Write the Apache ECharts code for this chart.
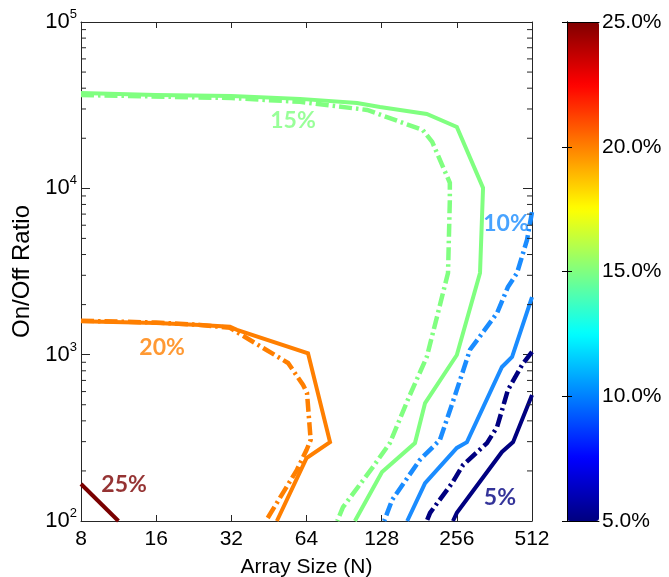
<!DOCTYPE html>
<html>
<head>
<meta charset="utf-8">
<script src="https://cdn.jsdelivr.net/npm/echarts@6/dist/echarts.min.js"></script>
<style>
  html, body { margin: 0; padding: 0; background: #fff; }
  #chart { width: 669px; height: 577px; }
</style>
</head>
<body>
<div id="chart"></div>
<script>
// Contour lines of error rate over array size N and on/off ratio.
// Each line is a list of [N, on/off ratio] vertices.
const solid25 = [[8, 167], [11.3, 100]];

const solid20 = [[8, 1590], [16, 1550], [24, 1510], [31.6, 1470], [33.7, 1410],
  [64.9, 1020], [79.5, 298], [64, 239], [48.7, 100]];
const dash20 = [[8, 1600], [16, 1560], [24, 1510], [31.6, 1450], [38, 1225],
  [54, 891], [62, 657], [64.3, 589], [66.5, 307], [64, 267], [58.6, 203], [44, 100]];

const solid15 = [[8, 37400], [16, 36400], [32, 35900], [60.3, 34500], [102, 32600],
  [126, 30800], [194, 28000], [256, 23400], [326, 10050], [317, 3100], [256, 995],
  [191, 512], [174, 294], [128.4, 197], [100, 100]];
const dash15 = [[8, 36400], [32, 34900], [60.3, 33100], [112, 29600], [187, 22400],
  [204, 19000], [240, 10800], [240, 8500], [236, 3100], [213, 1680], [194, 968],
  [166, 572], [138, 294], [118, 211], [89.6, 121], [85, 100]];

const solid10 = [[512, 2220], [426, 968], [388, 843], [281, 298], [256, 275],
  [191, 169], [162, 100]];
const dash10 = [[512, 7200], [489, 4890], [446, 3100], [410, 2550], [371, 1780],
  [289, 1070], [252, 572], [219, 307], [182, 233], [141, 134], [131, 100]];

const solid5 = [[512, 572], [430, 298], [388, 260], [256, 112], [247, 100]];
const dash5 = [[512, 1040], [467, 867], [410, 613], [371, 367], [338, 294],
  [271, 217], [245, 169], [200, 112], [194, 100]];

// Inline level labels
const levelText = ['25%', '20%', '15%', '10%', '5%'];
const levelX = [11.9, 16.9, 56.5, 403, 381];
const levelY = [165, 1097, 25400, 6100, 139];

// Axis ticks
const xTicks = [8, 16, 32, 64, 128, 256, 512];
const yMinorTicks = [200, 300, 400, 500, 600, 700, 800, 900,
  2000, 3000, 4000, 5000, 6000, 7000, 8000, 9000,
  20000, 30000, 40000, 50000, 60000, 70000, 80000, 90000];
const colorbarTicks = [5, 10, 15, 20, 25];

// Jet colormap stops used for the colour bar and the contour levels
const jet = ['#000080', '#0000ff', '#0080ff', '#00ffff', '#80ff80',
  '#ffff00', '#ff8000', '#ff0000', '#800000'];
const levelColor = {25: '#7a0000', 20: '#ff7f00', 15: '#80ff80', 10: '#1a8cff', 5: '#000080'};

const FONT = 'Liberation Sans';
const AXIS_COLOR = '#262626';
const dashDot = [13, 4, 2.5, 4];

function contour(data, color, dashed) {
  return {
    type: 'line', xAxisIndex: 0, yAxisIndex: 0, data: data,
    showSymbol: false, symbol: 'none', silent: true, animation: false,
    lineStyle: { color: color, width: dashed ? 4.5 : 4, type: dashed ? dashDot : 'solid', cap: 'butt', join: 'miter' },
    z: 3
  };
}

const chart = echarts.init(document.getElementById('chart'), null, { renderer: 'canvas' });

const series = [
  contour(dash15, levelColor[15], true),
  contour(solid15, levelColor[15], false),
  contour(dash20, levelColor[20], true),
  contour(solid20, levelColor[20], false),
  contour(solid25, levelColor[25], false),
  contour(dash10, levelColor[10], true),
  contour(solid10, levelColor[10], false),
  contour(dash5, levelColor[5], true),
  contour(solid5, levelColor[5], false),
  {
    // inline level labels
    type: 'scatter', xAxisIndex: 0, yAxisIndex: 0, symbolSize: 0, silent: true,
    data: levelText.map((t, i) => ({
      value: [levelX[i], levelY[i]],
      label: {
        show: true, position: 'inside', formatter: t,
        color: levelColor[parseInt(t)],
        fontFamily: 'Lato', fontWeight: 'bold', fontSize: 23
      }
    })),
    z: 5
  },
  {
    // minor ticks of the logarithmic y axis, drawn inward on both sides
    type: 'custom', xAxisIndex: 0, yAxisIndex: 0, silent: true, clip: false,
    data: yMinorTicks.map(v => [8, v]),
    renderItem: function (params, api) {
      const v = api.value(1);
      const l = api.coord([8, v]);
      const r = api.coord([512, v]);
      return {
        type: 'group', children: [
          { type: 'line', shape: { x1: l[0], y1: l[1], x2: l[0] + 5, y2: l[1] }, style: { stroke: AXIS_COLOR, lineWidth: 1 } },
          { type: 'line', shape: { x1: r[0], y1: r[1], x2: r[0] - 5, y2: r[1] }, style: { stroke: AXIS_COLOR, lineWidth: 1 } }
        ]
      };
    },
    z: 6
  },
  {
    // carrier for the colour bar
    type: 'scatter', xAxisIndex: 2, yAxisIndex: 2, data: [], silent: true
  }
];

const option = {
  animation: false,
  backgroundColor: '#fff',
  grid: [
    { left: 81, right: 137, top: 22, bottom: 56, containLabel: false, outerBoundsMode: 'none' },
    { left: 567, top: 22, width: 32, height: 499, containLabel: false, outerBoundsMode: 'none' }
  ],
  xAxis: [
    {
      type: 'log', logBase: 2, min: 8, max: 512, interval: 1, gridIndex: 0, position: 'bottom',
      axisLine: { show: true, lineStyle: { color: AXIS_COLOR, width: 1 } },
      axisTick: { show: true, inside: true, length: 6, lineStyle: { color: AXIS_COLOR } },
      axisLabel: { color: '#000', fontFamily: FONT, fontSize: 21, margin: 8,
        formatter: v => String(Math.round(v)) },
      splitLine: { show: false },
      name: 'Array Size (N)', nameLocation: 'middle', nameGap: 36,
      nameTextStyle: { color: '#000', fontFamily: FONT, fontSize: 21 }
    },
    {
      type: 'log', logBase: 2, min: 8, max: 512, interval: 1, gridIndex: 0, position: 'top',
      axisLine: { show: true, lineStyle: { color: AXIS_COLOR, width: 1 } },
      axisTick: { show: true, inside: true, length: 6, lineStyle: { color: AXIS_COLOR } },
      axisLabel: { show: false }, splitLine: { show: false }
    },
    {
      type: 'value', gridIndex: 1, min: 0, max: 1, position: 'bottom',
      axisLine: { show: true, lineStyle: { color: '#000' } },
      axisTick: { show: false }, axisLabel: { show: false }, splitLine: { show: false }, z: 10
    },
    {
      type: 'value', gridIndex: 1, min: 0, max: 1, position: 'top',
      axisLine: { show: true, lineStyle: { color: '#000' } },
      axisTick: { show: false }, axisLabel: { show: false }, splitLine: { show: false }, z: 10
    }
  ],
  yAxis: [
    {
      type: 'log', logBase: 10, min: 100, max: 100000, interval: 1, gridIndex: 0, position: 'left',
      axisLine: { show: true, lineStyle: { color: AXIS_COLOR, width: 1 } },
      axisTick: { show: true, inside: true, length: 9, lineStyle: { color: AXIS_COLOR } },
      axisLabel: {
        margin: 4,
        formatter: v => '{b|10}{s|' + Math.round(Math.log10(v)) + '}',
        rich: {
          b: { color: '#000', fontFamily: FONT, fontSize: 22, lineHeight: 28, verticalAlign: 'middle' },
          s: { color: '#000', fontFamily: FONT, fontSize: 13, lineHeight: 14, verticalAlign: 'top' }
        }
      },
      splitLine: { show: false },
      name: 'On/Off Ratio', nameLocation: 'middle', nameGap: 47,
      nameTextStyle: { color: '#000', fontFamily: FONT, fontSize: 24 }
    },
    {
      type: 'log', logBase: 10, min: 100, max: 100000, interval: 1, gridIndex: 0, position: 'right',
      axisLine: { show: true, lineStyle: { color: AXIS_COLOR, width: 1 } },
      axisTick: { show: true, inside: true, length: 9, lineStyle: { color: AXIS_COLOR } },
      axisLabel: { show: false }, splitLine: { show: false }
    },
    {
      type: 'value', gridIndex: 1, min: 5, max: 25, interval: 5, position: 'left',
      axisLine: { show: true, lineStyle: { color: '#000' } },
      axisTick: { show: true, inside: true, length: 5, lineStyle: { color: '#000' } },
      axisLabel: { show: false }, splitLine: { show: false }, z: 10
    },
    {
      type: 'value', gridIndex: 1, min: 5, max: 25, interval: 5, position: 'right',
      axisLine: { show: true, lineStyle: { color: '#000' } },
      axisTick: { show: true, inside: true, length: 5, lineStyle: { color: '#000' } },
      axisLabel: { show: true, margin: 3, color: '#000', fontFamily: FONT, fontSize: 21,
        formatter: v => v.toFixed(1) + '%' },
      splitLine: { show: false }, z: 10
    }
  ],
  visualMap: {
    type: 'continuous', min: colorbarTicks[0], max: colorbarTicks[colorbarTicks.length - 1],
    calculable: false, hoverLink: false, realtime: false,
    seriesIndex: [series.length - 1],
    left: 567, top: 22, itemWidth: 32, itemHeight: 499, padding: 0,
    orient: 'vertical', inRange: { color: jet }, text: null, showLabel: false
  },
  series: series
};

chart.setOption(option);
</script>
</body>
</html>
